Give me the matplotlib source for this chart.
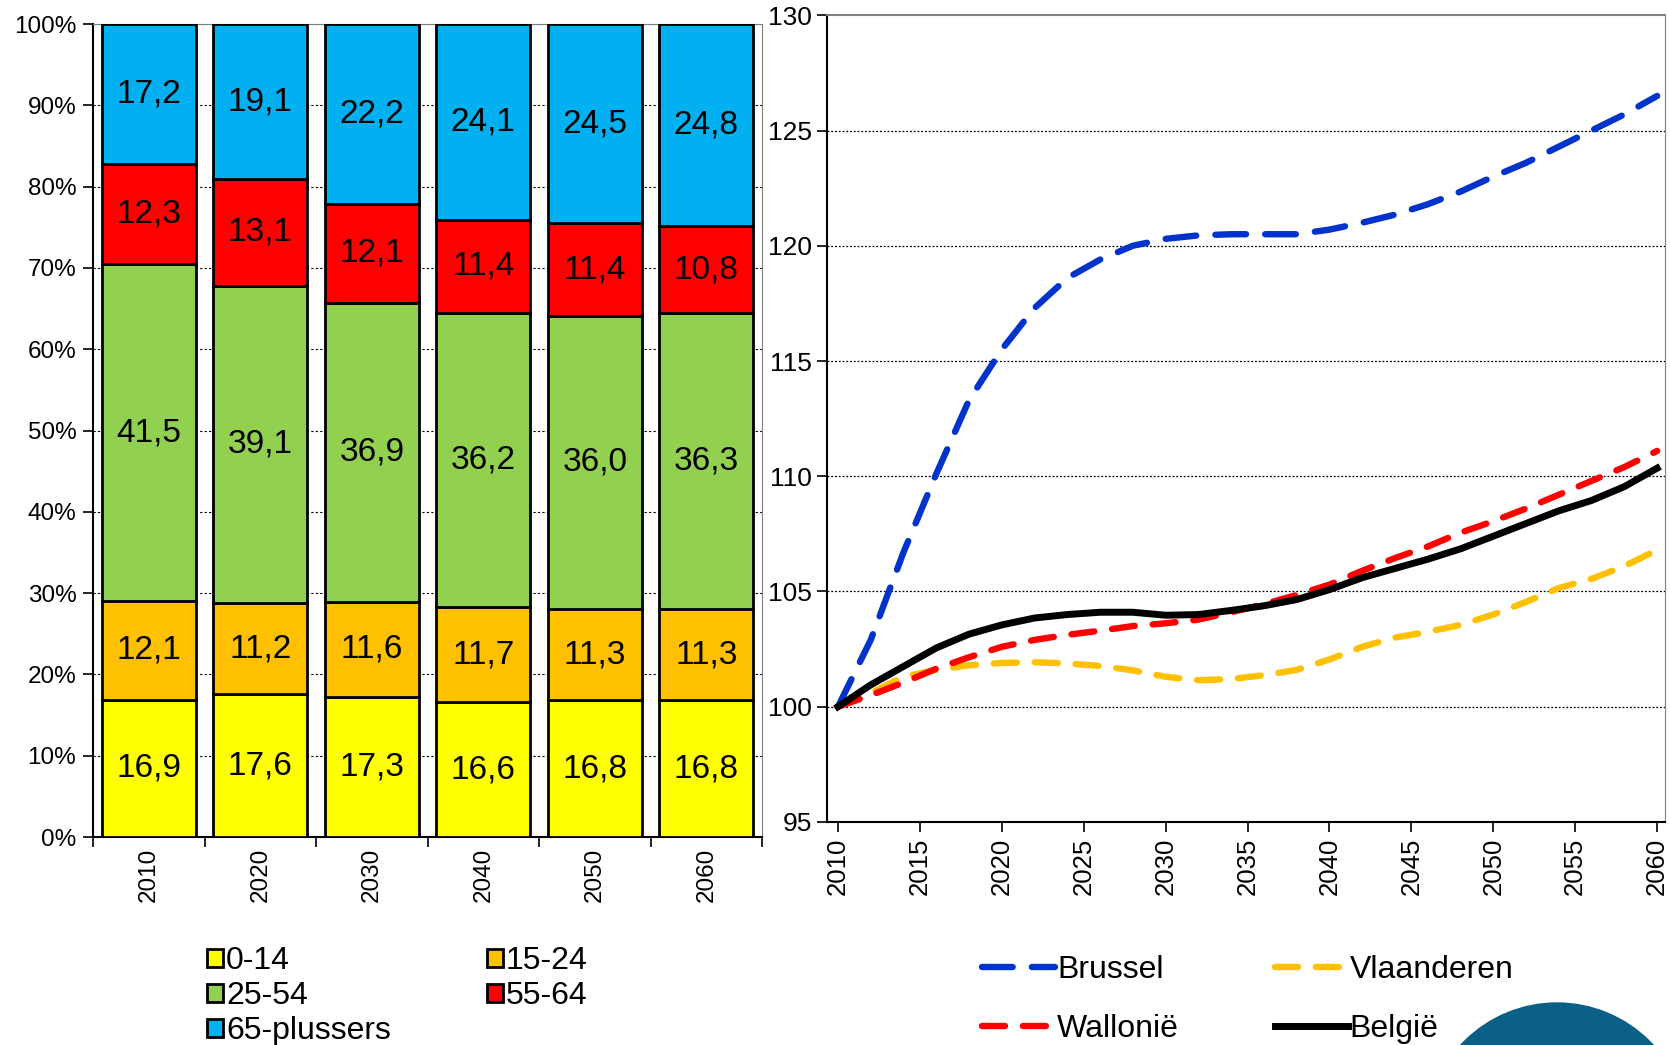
import matplotlib
matplotlib.use("Agg")
import matplotlib.pyplot as plt
from matplotlib.patches import Ellipse
import numpy as np

plt.rcParams['font.family'] = ['Liberation Sans', 'DejaVu Sans']

# left chart: age structure (%)
decades = ['2010', '2020', '2030', '2040', '2050', '2060']
groups = ['0-14', '15-24', '25-54', '55-64', '65-plussers']
age_0_14 = [16.9, 17.6, 17.3, 16.6, 16.8, 16.8]
age_15_24 = [12.1, 11.2, 11.6, 11.7, 11.3, 11.3]
age_25_54 = [41.5, 39.1, 36.9, 36.2, 36.0, 36.3]
age_55_64 = [12.3, 13.1, 12.1, 11.4, 11.4, 10.8]
age_65p = [17.2, 19.1, 22.2, 24.1, 24.5, 24.8]
bar_colors = ['#FFFF00', '#FFC000', '#92D050', '#FF0000', '#00B0F0']

# right chart: population index (2010 = 100)
years = list(range(2010, 2061, 2))
brussel = [100.0, 102.9, 106.7, 110.1, 113.3, 115.5, 117.3, 118.6, 119.4, 120.0,
           120.3, 120.45, 120.5, 120.5, 120.5, 120.7, 121.0, 121.35, 121.8, 122.35,
           123.0, 123.6, 124.3, 125.0, 125.7, 126.5]
vlaanderen = [100.0, 100.6, 101.3, 101.6, 101.8, 101.9, 101.93, 101.88, 101.77, 101.58,
              101.3, 101.15, 101.2, 101.37, 101.6, 102.05, 102.6, 103.0, 103.25, 103.55,
              104.0, 104.55, 105.15, 105.55, 106.1, 106.8]
wallonie = [100.0, 100.5, 101.05, 101.65, 102.15, 102.6, 102.9, 103.12, 103.3, 103.5,
            103.62, 103.78, 104.1, 104.45, 104.85, 105.3, 105.9, 106.45, 106.95, 107.55,
            108.05, 108.6, 109.2, 109.8, 110.4, 111.1]
belgie = [100.0, 100.95, 101.75, 102.55, 103.15, 103.55, 103.85, 104.0, 104.1, 104.1,
          103.97, 104.0, 104.18, 104.38, 104.65, 105.08, 105.6, 106.0, 106.4, 106.85,
          107.4, 107.95, 108.5, 108.95, 109.55, 110.35]

fig = plt.figure(figsize=(16.7, 10.45), dpi=100)

# ---------- stacked 100% bars ----------
ax1 = fig.add_axes([0.0557, 0.199, 0.4006, 0.778])
series = np.array([age_0_14, age_15_24, age_25_54, age_55_64, age_65p])
pct = series / series.sum(axis=0) * 100
x = np.arange(len(decades))
bottom = np.zeros(len(decades))
bars = []
for i in range(len(groups)):
    b = ax1.bar(x, pct[i], 0.84, bottom=bottom, color=bar_colors[i],
                edgecolor='black', linewidth=2, label=groups[i], zorder=3)
    bars.append(b)
    for j in range(len(decades)):
        ax1.text(x[j], bottom[j] + pct[i][j] / 2, f"{series[i][j]:.1f}".replace('.', ','),
                 ha='center', va='center', fontsize=24, zorder=4)
    bottom += pct[i]

ax1.set_xlim(-0.5, 5.5)
ax1.set_ylim(0, 100)
ax1.set_yticks(np.arange(0, 101, 10))
ax1.set_yticklabels([f"{v}%" for v in range(0, 101, 10)])
ax1.yaxis.grid(True, linestyle=(0, (2, 2)), color='black', linewidth=0.8, zorder=0)
ax1.set_xticks(x)
ax1.set_xticklabels(decades, rotation=90)
ax1.set_xticks(np.arange(-0.5, 6, 1), minor=True)
ax1.tick_params(axis='x', which='major', length=0, pad=8, labelsize=17.5)
ax1.tick_params(axis='x', which='minor', length=7, width=1.2, direction='out')
ax1.tick_params(axis='y', length=7, width=1.2, direction='out', labelsize=17.5, pad=5)
ax1.spines['left'].set_linewidth(1.5)
ax1.spines['bottom'].set_linewidth(1.5)
ax1.spines['top'].set_color('#808080')
ax1.spines['right'].set_color('#808080')

h = [bars[0], bars[2], bars[4], bars[1], bars[3]]
lab = [groups[0], groups[2], groups[4], groups[1], groups[3]]
leg1 = fig.legend(h, lab, ncol=2, loc='upper left', bbox_to_anchor=(0.124, 0.0947),
                  frameon=False, fontsize=23, handlelength=0.5, handleheight=0.5,
                  handletextpad=0.1, labelspacing=0.16, columnspacing=3.0,
                  borderpad=0, borderaxespad=0)

# ---------- index lines ----------
ax2 = fig.add_axes([0.4952, 0.2134, 0.502, 0.772])
l_b, = ax2.plot(years, brussel, color='#0033CC', lw=4.6, dashes=(4.8, 3),
                dash_capstyle='round', label='Brussel', zorder=3)
l_v, = ax2.plot(years, vlaanderen, color='#FFC000', lw=4.6, dashes=(3.6, 2.8),
                dash_capstyle='round', label='Vlaanderen', zorder=3)
l_w, = ax2.plot(years, wallonie, color='#FF0000', lw=4.6, dashes=(3.6, 2.8),
                dash_capstyle='round', label='Wallonië', zorder=3)
l_be, = ax2.plot(years, belgie, color='black', lw=5, label='België', zorder=4)

ax2.set_xlim(2009.33, 2060.5)
ax2.set_ylim(95, 130)
ax2.set_yticks(range(95, 131, 5))
ax2.set_xticks(range(2010, 2061, 5))
ax2.tick_params(axis='x', rotation=90, length=7, width=1.2, labelsize=18.5, pad=4)
ax2.tick_params(axis='y', length=7, width=1.2, labelsize=19, pad=4)
for yv in range(100, 130, 5):
    ax2.axhline(yv, color='black', linestyle=(0, (1.5, 1.5)), linewidth=0.9, zorder=1)
ax2.spines['left'].set_linewidth(1.5)
ax2.spines['bottom'].set_linewidth(1.5)
ax2.spines['top'].set_color('#808080')
ax2.spines['top'].set_linewidth(1.5)
ax2.spines['right'].set_color('#808080')

leg2 = fig.legend([l_b, l_w, l_v, l_be], ['Brussel', 'Wallonië', 'Vlaanderen', 'België'],
                  ncol=2, loc='upper left', bbox_to_anchor=(0.588, 0.0861),
                  frameon=False, fontsize=23, handlelength=2.3, handletextpad=0.05,
                  labelspacing=0.9, columnspacing=3.0, borderpad=0, borderaxespad=0)

# decorative logo circle bottom right
fig.patches.append(Ellipse((1557 / 1670, -89 / 1045), 262 / 1670, 262 / 1045,
                           transform=fig.transFigure, color='#0B5E86', zorder=0))

fig.savefig('out.png', dpi=100)
